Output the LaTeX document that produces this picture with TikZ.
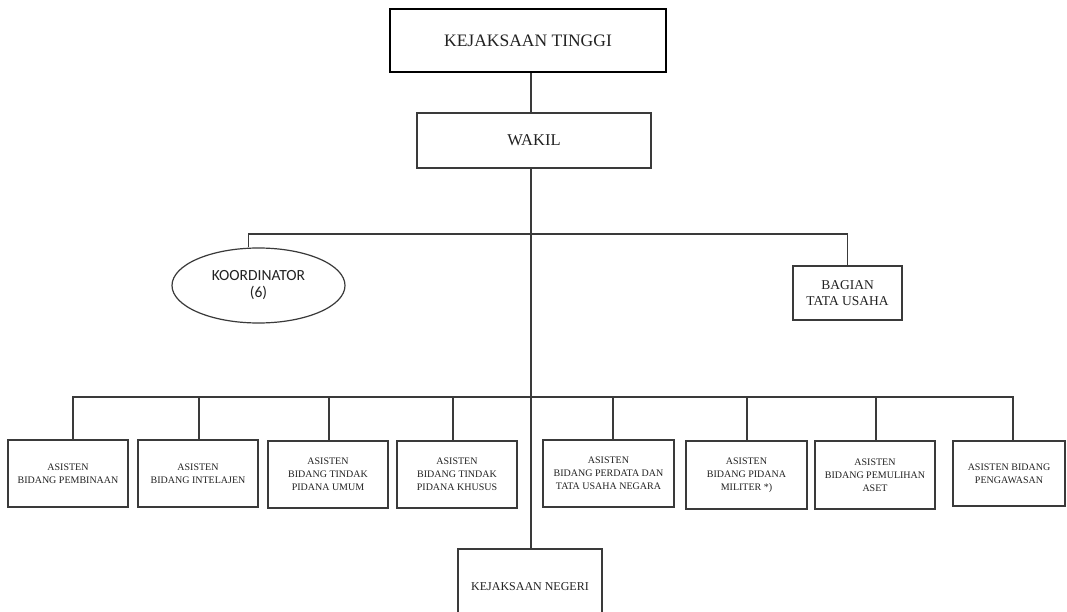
\documentclass[tikz,border=0pt]{standalone}
\usepackage{fontspec}
\setmainfont{Liberation Serif}
\newfontfamily\calfont{Carlito}
\usetikzlibrary{shapes.geometric}
\definecolor{ln}{HTML}{3A3A3A}
\definecolor{tx}{HTML}{222222}
\tikzset{
  box/.style={draw=ln, line width=1.2pt, fill=white, text=tx, align=center, inner sep=0pt},
  small/.style={box, font=\fontsize{10}{13}\selectfont},
  conn/.style={draw=ln, line width=1.1pt},
}
\begin{document}
\begin{tikzpicture}[x=1pt,y=-1pt]
\useasboundingbox (0,0) rectangle (1067,612);
\clip (0,0) rectangle (1067,612);
\fill[white] (0,0) rectangle (1067,612);
\coordinate (spine) at (531,0);
\coordinate (br) at (531,234);
\coordinate (bus) at (531,397);

\node[box, line width=2pt, draw=black, minimum width=276, minimum height=63, font=\fontsize{17.5}{20}\selectfont] (top) at (528,40.5) {KEJAKSAAN TINGGI};
\node[box, minimum width=234, minimum height=55, font=\fontsize{16.5}{19}\selectfont] (wakil) at (534,140.5) {WAKIL};
\node[box, ellipse, minimum width=173, minimum height=75, font=\calfont\fontsize{15.5}{17}\selectfont] (ko) at (258.5,285.5) {KOORDINATOR\\(6)};
\node[box, minimum width=109, minimum height=54, font=\fontsize{13.5}{16}\selectfont] (bag) at (847.5,293) {BAGIAN\\TATA USAHA};

\node[small, minimum width=120, minimum height=67] (b1) at (68,473.5) {ASISTEN\\BIDANG PEMBINAAN};
\node[small, minimum width=120, minimum height=67] (b2) at (198,473.5) {ASISTEN\\BIDANG INTELAJEN};
\node[small, minimum width=120, minimum height=67] (b3) at (328,474.5) {ASISTEN\\BIDANG TINDAK\\PIDANA UMUM};
\node[small, minimum width=120, minimum height=67] (b4) at (457,474.5) {ASISTEN\\BIDANG TINDAK\\PIDANA KHUSUS};
\node[small, minimum width=131, minimum height=67] (b5) at (608.5,473.5) {ASISTEN\\BIDANG PERDATA DAN\\TATA USAHA NEGARA};
\node[small, minimum width=121, minimum height=68] (b6) at (746.5,475) {ASISTEN\\BIDANG PIDANA\\MILITER *)};
\node[small, minimum width=120, minimum height=68] (b7) at (875,475) {ASISTEN\\BIDANG PEMULIHAN\\ASET};
\node[small, minimum width=112, minimum height=65] (b8) at (1009,473.5) {ASISTEN BIDANG\\PENGAWASAN};

\node[box, minimum width=144, minimum height=76, font=\fontsize{12}{14}\selectfont] (neg) at (530,587) {KEJAKSAAN NEGERI};

% connectors
\draw[conn] (top.south -| spine) -- (wakil.north -| spine);
\draw[conn] (wakil.south -| spine) -- (neg.north -| spine);
\draw[conn] ([xshift=-10pt]ko.north) |- (br) -| (bag.north);
\draw[conn] ([xshift=5pt]b1.north) |- (bus) -| ([xshift=4pt]b8.north);
\draw[conn] ([xshift=1pt]b2.north) -- ([xshift=1pt]b2.north |- bus);
\draw[conn] ([xshift=1pt]b3.north) -- ([xshift=1pt]b3.north |- bus);
\draw[conn] ([xshift=-4pt]b4.north) -- ([xshift=-4pt]b4.north |- bus);
\draw[conn] ([xshift=4.5pt]b5.north) -- ([xshift=4.5pt]b5.north |- bus);
\draw[conn] ([xshift=0.5pt]b6.north) -- ([xshift=0.5pt]b6.north |- bus);
\draw[conn] ([xshift=1pt]b7.north) -- ([xshift=1pt]b7.north |- bus);
\end{tikzpicture}
\end{document}
